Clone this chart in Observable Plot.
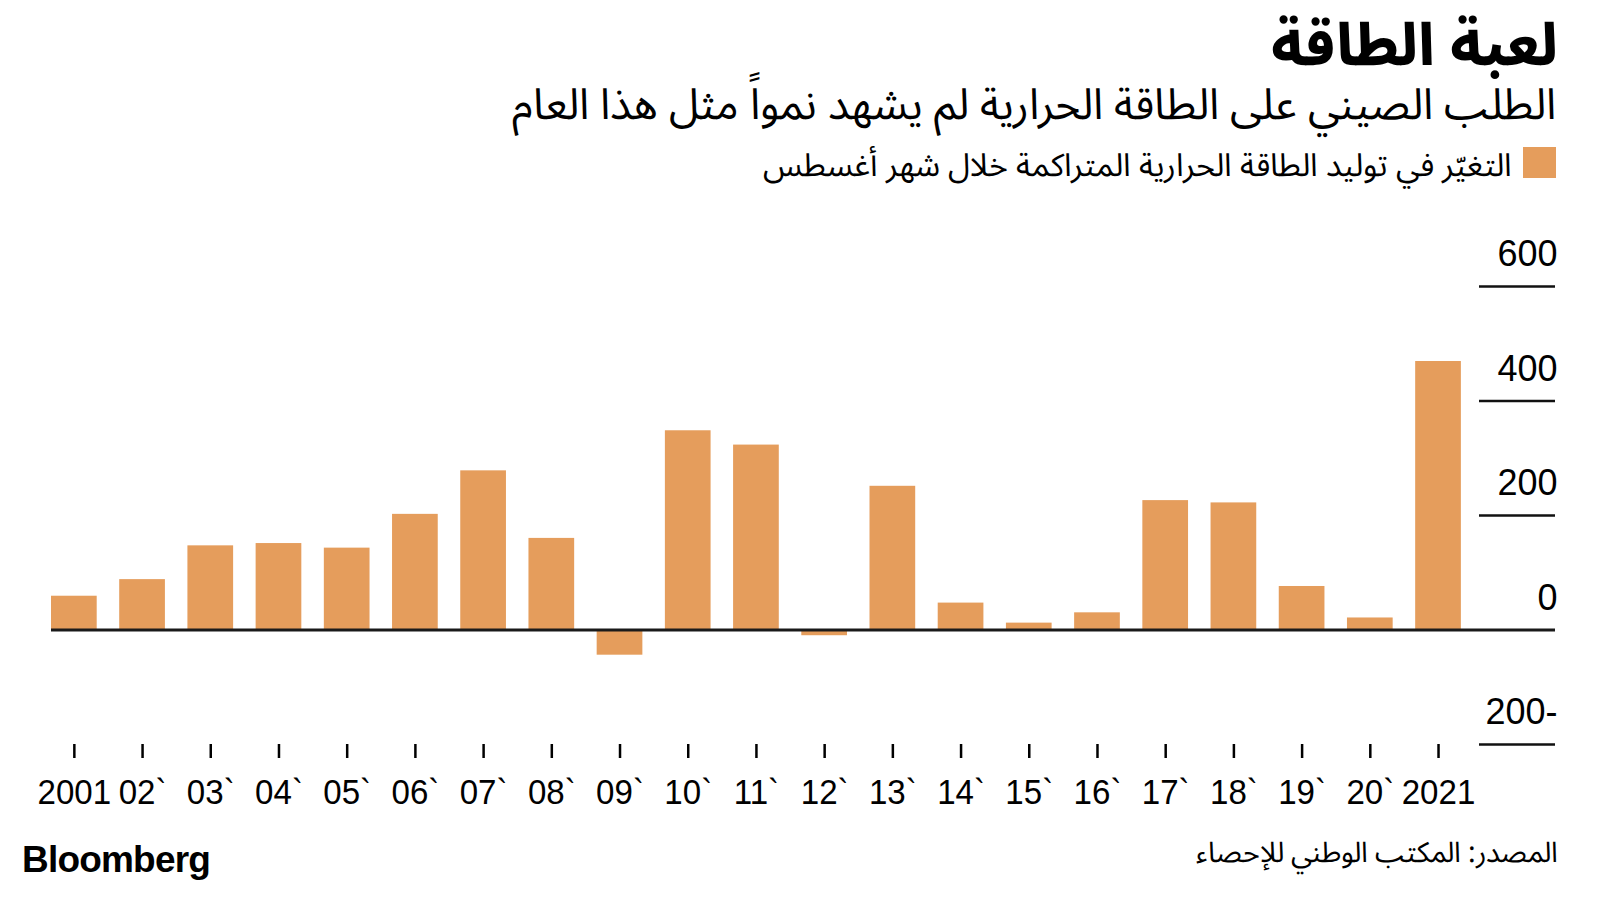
<!DOCTYPE html>
<html>
<head>
<meta charset="utf-8">
<script src="https://cdn.jsdelivr.net/npm/d3@7"></script>
<script src="https://cdn.jsdelivr.net/npm/@observablehq/plot@0.6"></script>
<style>
  @font-face {
    font-family: "ArabicTight";
    src: local("Noto Sans Arabic"), local("NotoSansArabic-Regular"), local("Noto Sans Arabic Regular");
    font-weight: 400;
    ascent-override: 85%; descent-override: 25%; line-gap-override: 0%;
  }
  @font-face {
    font-family: "ArabicTightBold";
    src: local("Noto Sans Arabic Bold"), local("NotoSansArabic-Bold"), local("Noto Sans Arabic ExtraBold"), local("NotoSansArabic-ExtraBold");
    font-weight: 700 900;
    ascent-override: 85%; descent-override: 25%; line-gap-override: 0%;
  }
  html, body { margin: 0; padding: 0; background: #fff; }
  body { width: 1600px; height: 900px; overflow: hidden; color: #000;
         font-family: "ArabicTight", "Noto Sans Arabic", "DejaVu Sans", sans-serif; }
  #header { position: relative; height: 200px; }
  #title { position: absolute; right: 42px; top: 17px; font-size: 58px; font-weight: 800; direction: rtl; line-height: 1.1; white-space: nowrap;
           font-family: "ArabicTightBold", "Noto Sans Arabic", "DejaVu Sans", sans-serif; }
  #subtitle { position: absolute; right: 44px; top: 83px; font-size: 43px; direction: rtl; line-height: 1.1; white-space: nowrap; }
  #legend { position: absolute; right: 44px; top: 145px; height: 35px; direction: rtl; display: flex; align-items: center; white-space: nowrap; }
  #legend .sw { width: 33px; height: 31px; background: #e59d5c; margin-left: 11px; }
  #legend .lt { font-size: 32px; line-height: 1.1; position: relative; top: 4px; }
  #chart { height: 620px; }
  #footer { position: relative; height: 80px; }
  #brand { position: absolute; left: 22px; top: 21px; font-family: "Liberation Sans", Arial, sans-serif; font-weight: 700; font-size: 37px; letter-spacing: -0.8px; line-height: 1; }
  #source { position: absolute; right: 42px; top: 18px; font-size: 28.5px; direction: rtl; line-height: 1.1; white-space: nowrap; }
</style>
</head>
<body>
<div id="header">
  <div id="title"></div>
  <div id="subtitle"></div>
  <div id="legend"><div class="sw"></div><div class="lt"></div></div>
</div>
<div id="chart"></div>
<div id="footer">
  <div id="brand"></div>
  <div id="source"></div>
</div>
<script>
// ---- data ----
const years = ["2001", "02`", "03`", "04`", "05`", "06`", "07`", "08`", "09`", "10`", "11`",
               "12`", "13`", "14`", "15`", "16`", "17`", "18`", "19`", "20`", "2021"];
const values = [59, 88, 147, 151, 143, 202, 278, 160, -44, 348, 323,
                -10, 251, 47, 12, 30, 226, 222, 76, 21, 469];
const yTicks = [-200, 0, 200, 400, 600];
const titleText = "لعبة الطاقة";
const subtitleText = "الطلب الصيني على الطاقة الحرارية لم يشهد نمواً مثل هذا العام";
const legendText = "التغيّر في توليد الطاقة الحرارية المتراكمة خلال شهر أغسطس";
const sourceText = "المصدر: المكتب الوطني للإحصاء";
const brandText = "Bloomberg";

const barColor = "#e59d5c";
const data = years.map((year, i) => ({year, value: values[i]}));

document.getElementById("title").textContent = titleText;
document.getElementById("subtitle").textContent = subtitleText;
document.querySelector("#legend .lt").textContent = legendText;
document.getElementById("source").textContent = sourceText;
document.getElementById("brand").textContent = brandText;

const chart = Plot.plot({
  width: 1600,
  height: 620,
  marginLeft: 51,
  marginRight: 45,
  marginTop: 86,
  marginBottom: 76,
  style: { background: "#fff", color: "#000", fontFamily: "'Liberation Sans', Arial, sans-serif" },
  x: { type: "band", domain: years, paddingInner: 0.33, paddingOuter: 0.69, align: 0, round: false, label: null },
  y: { domain: [-200, 600], label: null },
  marks: [
    Plot.barY(data, { x: "year", y: "value", fill: barColor }),
    Plot.ruleY(yTicks.filter(d => d !== 0), { insetLeft: 1428, stroke: "#111", strokeWidth: 2.5 }),
    Plot.ruleY([0], { stroke: "#1a1a1a", strokeWidth: 3 }),
    Plot.axisX({ anchor: "bottom", tickSize: 14, tickPadding: 20, strokeWidth: 2.5, fontSize: 36, label: null }),
    Plot.axisY({ anchor: "right", ticks: yTicks, tickSize: 0, tickPadding: 0, textAnchor: "end",
                 dx: 2, dy: -32, fontSize: 36, label: null,
                 tickFormat: d => d < 0 ? `${-d}-` : `${d}` })
  ]
});
// condensed look for the year labels (narrow face is not installed)
d3.select(chart).selectAll('g[aria-label="x-axis tick label"] text').each(function() {
  const t = this.getAttribute("transform") || "";
  this.setAttribute("transform", t + " scale(0.92,1)");
});
document.getElementById("chart").appendChild(chart);
</script>
</body>
</html>
